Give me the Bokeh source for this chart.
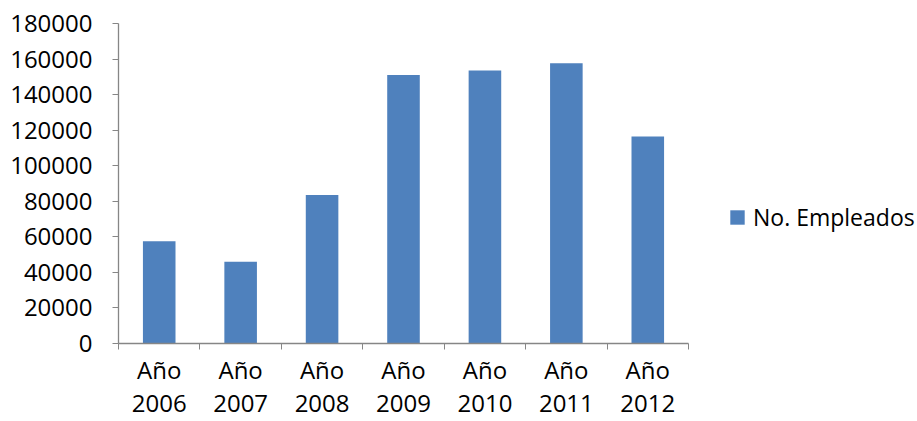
from bokeh.plotting import figure
from bokeh.models import Range1d, FixedTicker, Legend, LegendItem, ColumnDataSource
from bokeh.embed import file_html
from bokeh.resources import INLINE

years = ["2006", "2007", "2008", "2009", "2010", "2011", "2012"]
tick_labels = ["Año\n2006", "Año\n2007", "Año\n2008", "Año\n2009", "Año\n2010", "Año\n2011", "Año\n2012"]
empleados = [57500, 46000, 83500, 151000, 153500, 157700, 116400]
y_ticks = [0, 20000, 40000, 60000, 80000, 100000, 120000, 140000, 160000, 180000]
series_name = "No. Empleados"

FONT = "Open Sans"
FS = "24px"
AXIS_COLOR = "#868686"
BAR_COLOR = "#4F81BD"

W, H = 917, 421
LEFT, TOP, BOTTOM = 118, 23, 76
AXIS_PX = 570  # pixel length of the category axis

n = len(years)
centers = [i + 0.5 for i in range(n)]
bounds = list(range(n + 1))
x_end = n * (W - LEFT) / AXIS_PX  # frame extends to the right to host the legend

p = figure(width=W, height=H, output_backend="svg", toolbar_location=None,
           x_range=Range1d(0, x_end), y_range=Range1d(0, 180000),
           min_border_left=LEFT, min_border_right=0, min_border_top=TOP, min_border_bottom=BOTTOM)
p.outline_line_color = None
p.grid.grid_line_color = None
p.background_fill_color = "white"
p.border_fill_color = "white"

src = ColumnDataSource(dict(x=centers, top=empleados))
r = p.vbar(x="x", top="top", width=0.4, source=src, fill_color=BAR_COLOR, line_color=None)

xa = p.xaxis[0]
xa.bounds = (0, n)
xa.ticker = FixedTicker(ticks=centers, minor_ticks=bounds)
xa.major_label_overrides = {c: lab for c, lab in zip(centers, tick_labels)}
xa.major_tick_line_color = None
xa.minor_tick_line_color = AXIS_COLOR
xa.minor_tick_out = 6
xa.minor_tick_in = 0
xa.axis_line_color = AXIS_COLOR
xa.axis_line_width = 1.3
xa.major_label_standoff = 3
xa.major_label_text_font = FONT
xa.major_label_text_font_size = FS
xa.major_label_text_color = "black"
xa.major_label_text_line_height = 1.0

ya = p.yaxis[0]
ya.ticker = FixedTicker(ticks=y_ticks, minor_ticks=[])
ya.axis_line_color = AXIS_COLOR
ya.axis_line_width = 1.3
ya.major_tick_line_color = AXIS_COLOR
ya.major_tick_out = 6
ya.major_tick_in = 0
ya.minor_tick_line_color = None
ya.major_label_standoff = 20
ya.major_label_text_font = FONT
ya.major_label_text_font_size = FS
ya.major_label_text_color = "black"
ya.formatter.use_scientific = False

legend = Legend(items=[LegendItem(label=series_name, renderers=[r])],
                location=(610, 110), orientation="vertical",
                glyph_width=18, glyph_height=18, label_standoff=7,
                padding=0, margin=0, spacing=0,
                border_line_color=None, background_fill_alpha=0,
                label_text_font=FONT, label_text_font_size="23px", label_text_color="black")
p.add_layout(legend, "center")

open("out.html", "w").write(file_html(p, INLINE))
